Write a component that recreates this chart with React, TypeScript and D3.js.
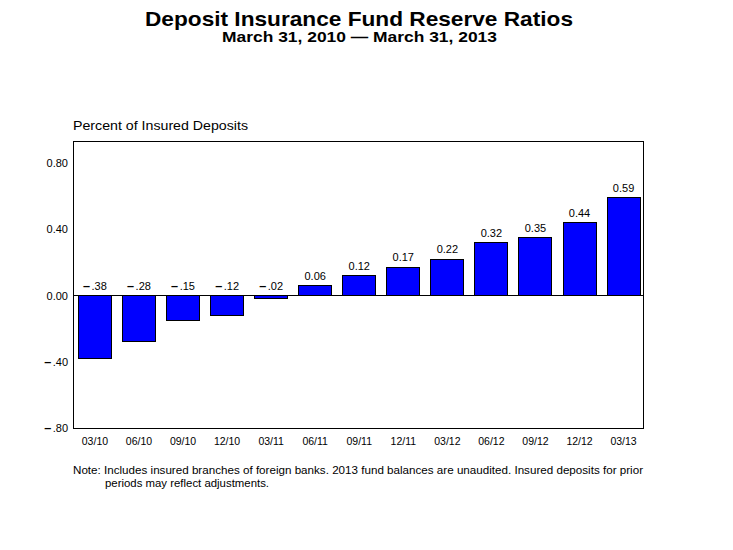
import React from "react"
import * as d3 from "d3"

const quarters = ["03/10", "06/10", "09/10", "12/10", "03/11", "06/11", "09/11", "12/11", "03/12", "06/12", "09/12", "12/12", "03/13"]
const ratios = [-0.38, -0.28, -0.15, -0.12, -0.02, 0.06, 0.12, 0.17, 0.22, 0.32, 0.35, 0.44, 0.59]
const yTicks = [-0.8, -0.4, 0, 0.4, 0.8]

const font = "Arial, 'Liberation Sans', Helvetica, sans-serif"

// negative numbers are shown as a heavy dash followed by ".38"
const Num = ({ v }: { v: number }) =>
  v < 0 ? (
    <>
      <tspan fontWeight="bold" fontSize="1.15em">{"\u2013"}</tspan>
      <tspan dx={1.5}>{d3.format(".2f")(-v).replace(/^0/, "")}</tspan>
    </>
  ) : (
    <tspan>{d3.format(".2f")(v)}</tspan>
  )

export default function App() {
  const width = 733
  const height = 550
  const left = 73
  const right = 643
  const top = 141
  const bottom = 428

  const data = quarters.map((q, i) => ({ q, v: ratios[i] }))

  const x = d3.scaleBand<string>().domain(quarters).range([left + 1, right + 1.5]).paddingInner(0.25).paddingOuter(0.1)
  const y = d3.scaleLinear().domain([-0.8, 0.933]).range([bottom, top])

  return (
    <svg width={width} height={height} style={{ position: "absolute", left: 0, top: 0 }} fontFamily={font}>
      <rect x={0} y={0} width={width} height={height} fill="white" />
      {/* titles */}
      <text x={145} y={26} fontSize={21} fontWeight="bold" textLength={428} lengthAdjust="spacingAndGlyphs">
        Deposit Insurance Fund Reserve Ratios
      </text>
      <text x={222} y={42} fontSize={14.5} fontWeight="bold" textLength={275} lengthAdjust="spacingAndGlyphs">
        March 31, 2010 {"\u2014"} March 31, 2013
      </text>
      <text x={left} y={130} fontSize={13} textLength={175} lengthAdjust="spacingAndGlyphs">
        Percent of Insured Deposits
      </text>

      {/* frame */}
      <rect x={left} y={top} width={right - left} height={bottom - top} fill="none" stroke="black" strokeWidth={1} shapeRendering="crispEdges" />

      {/* y ticks */}
      {yTicks.map(t => (
        <text key={t} x={68} y={y(t) + 4} textAnchor="end" fontSize={11}>
          <Num v={t} />
        </text>
      ))}

      {/* bars */}
      {data.map(d => (
        <rect
          key={d.q}
          x={x(d.q)}
          y={y(Math.max(0, d.v))}
          width={x.bandwidth()}
          height={Math.abs(y(d.v) - y(0))}
          fill="#0000ff"
          stroke="black"
          strokeWidth={1}
          shapeRendering="crispEdges"
        />
      ))}

      {/* zero line */}
      <line x1={left} x2={right} y1={y(0)} y2={y(0)} stroke="black" strokeWidth={1} shapeRendering="crispEdges" />

      {/* value labels */}
      {data.map(d => (
        <text
          key={"l" + d.q}
          x={(x(d.q) ?? 0) + x.bandwidth() / 2}
          y={y(Math.max(0, d.v)) - 6}
          textAnchor="middle"
          fontSize={11}
        >
          <Num v={d.v} />
        </text>
      ))}

      {/* x labels */}
      {quarters.map(q => (
        <text key={"x" + q} x={(x(q) ?? 0) + x.bandwidth() / 2} y={445} textAnchor="middle" fontSize={10.5}>
          {q}
        </text>
      ))}

      {/* note */}
      <text x={73} y={474} fontSize={10.5} textLength={570} lengthAdjust="spacingAndGlyphs">
        Note: Includes insured branches of foreign banks. 2013 fund balances are unaudited. Insured deposits for prior
      </text>
      <text x={105} y={487} fontSize={10.5} textLength={164} lengthAdjust="spacingAndGlyphs">
        periods may reflect adjustments.
      </text>
    </svg>
  )
}
